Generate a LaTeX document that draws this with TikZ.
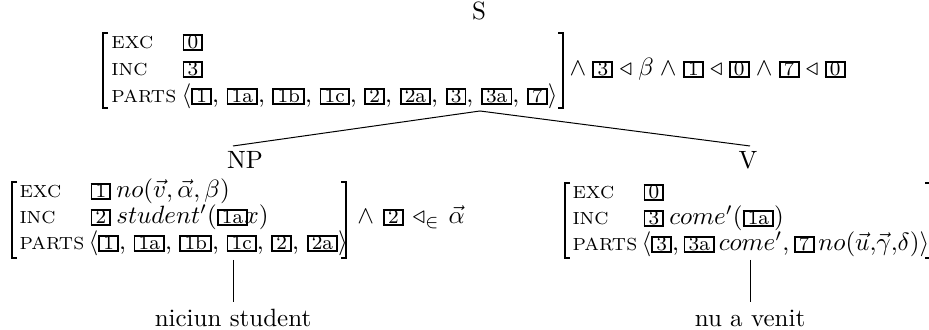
\documentclass[tikz,border=0pt]{standalone}
\usepackage{amsmath}
\newcommand\tg[1]{{\setlength{\fboxrule}{0.75pt}\setlength{\fboxsep}{0pt}\fbox{\hspace{1.3pt}\raisebox{0pt}[5.3pt][0pt]{\footnotesize #1}\hspace{1.3pt}}}}
\newcommand\gp{\hspace{2.5pt}}
\newcommand\cm{,\hspace{3pt}}
\tikzset{
  lab/.style={anchor=base west, inner sep=0pt, font=\scriptsize},
  val/.style={anchor=base west, inner sep=0pt},
  cat/.style={inner sep=1pt},
  word/.style={anchor=base, inner sep=3pt, text height=6.94pt},
  brk/.style={line width=0.55pt},
  edge/.style={line width=0.4pt},
}
\begin{document}
\begin{tikzpicture}[x=0.4pt,y=-0.4pt]
\useasboundingbox (0,0) rectangle (929,330);
% ---------- S ----------
\node[cat] (S) at (479,11) {S};
\draw[brk] (108,33) -- (103,33) -- (103,108) -- (108,108);
\draw[brk] (558,33) -- (563,33) -- (563,108) -- (558,108);
\node[lab] (s-exc) at (111,49) {EXC};
\node[lab] (s-inc) at (111,76) {INC};
\node[lab] (s-parts) at (111,103) {PARTS};
\node[val] (s-excv) at (182,49) {\tg{0}};
\node[val] (s-incv) at (182,76) {\tg{3}};
\node[val] (s-partsv) at (181,103) {$\langle$\tg{1}\cm\tg{1a}\cm\tg{1b}\cm\tg{1c}\cm\tg{2}\cm\tg{2a}\cm\tg{3}\cm\tg{3a}\cm\tg{7}$\rangle$};
\node[val] (s-con) at (569,76) {$\wedge$\gp\tg{3}\gp$\triangleleft$\gp$\beta$\gp$\wedge$\gp\tg{1}\gp$\triangleleft$\gp\tg{0}\gp$\wedge$\gp\tg{7}\gp$\triangleleft$\gp\tg{0}};
% ---------- tree ----------
\coordinate (s-root) at (480,111);
\coordinate (np-top) at (233,146);
\coordinate (v-top) at (750,146);
\draw[edge] (s-root) -- (np-top);
\draw[edge] (s-root) -- (v-top);
% ---------- NP ----------
\node[cat] (NP) at (245,160) {NP};
\draw[brk] (17,182) -- (12,182) -- (12,258) -- (17,258);
\draw[brk] (341,182) -- (346,182) -- (346,258) -- (341,258);
\node[lab] (np-exc) at (19,198) {EXC};
\node[lab] (np-inc) at (19,224) {INC};
\node[lab] (np-parts) at (19,250) {PARTS};
\node[val] (np-excv) at (90,198) {\tg{1}\hspace{2pt}$no(\vec{v},\vec{\alpha},\beta)$};
\node[val] (np-incv) at (90,224) {\tg{2}\hspace{2pt}$student'($\tg{1a}\kern-1.5pt$x)$};
\node[val] (np-partsv) at (88,250) {$\langle$\tg{1}\cm\tg{1a}\cm\tg{1b}\cm\tg{1c}\cm\tg{2}\cm\tg{2a}$\rangle$};
\node[val] (np-con) at (357,224) {$\wedge$\hspace{3.5pt}\tg{2}\hspace{3.5pt}$\triangleleft_{\in}$\hspace{3.5pt}$\vec{\alpha}$};
% ---------- V ----------
\node[cat] (V) at (748,160) {V};
\draw[brk] (570,183) -- (565,183) -- (565,258) -- (570,258);
\draw[brk] (925,183) -- (934,183) -- (934,258) -- (925,258);
\node[lab] (v-exc) at (572,199) {EXC};
\node[lab] (v-inc) at (572,225) {INC};
\node[lab] (v-parts) at (572,251) {PARTS};
\node[val] (v-excv) at (643,199) {\tg{0}};
\node[val] (v-incv) at (643,225) {\tg{3}\hspace{2pt}$come'($\tg{1a}$)$};
\node[val] (v-partsv) at (641,251) {$\langle$\tg{3},\hspace{1.8pt}\tg{3a}\hspace{1.5pt}$come'$,\hspace{1.8pt}\tg{7}\hspace{1.5pt}$no(\vec{u},\!\vec{\gamma},\!\delta)\rangle$};
% ---------- words ----------
\coordinate (np-foot) at (233,260);
\coordinate (v-foot) at (750,260);
\node[word] (w1) at (233,327) {niciun student};
\node[word] (w2) at (750,327) {nu a venit};
\draw[edge] (np-foot) -- (w1.north);
\draw[edge] (v-foot) -- (w2.north);
\end{tikzpicture}
\end{document}
